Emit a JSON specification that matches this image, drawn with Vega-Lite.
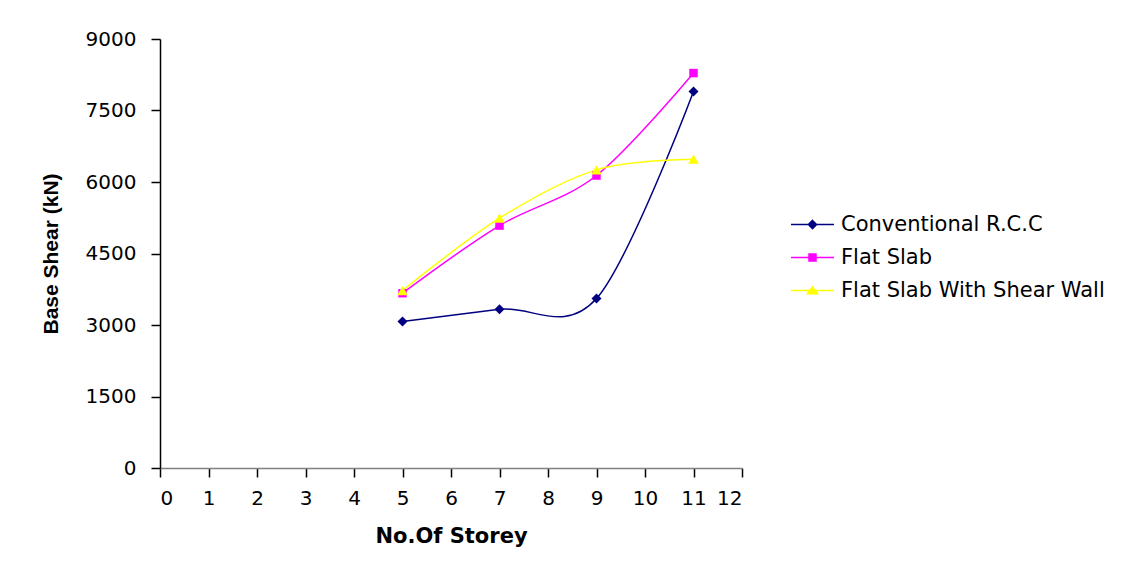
{
  "$schema": "https://vega.github.io/schema/vega-lite/v6.json",
  "autosize": {"type": "none"},
  "padding": {"left": 160, "top": 39, "right": 395, "bottom": 94},
  "width": 582,
  "height": 429,
  "background": "white",
  "config": {
    "view": {"stroke": null},
    "axis": {"grid": false, "labelColor": "black", "titleColor": "black", "tickColor": "black", "tickSize": 9, "tickWidth": 1.5, "domainWidth": 1.5},
    "legend": {"labelFont": "DejaVu Sans", "labelFontSize": 21, "labelColor": "black", "labelLimit": 0}
  },
  "data": {
    "values": [
      {"storey": 5, "series": "Conventional R.C.C", "shear": 3071},
      {"storey": 7, "series": "Conventional R.C.C", "shear": 3331},
      {"storey": 9, "series": "Conventional R.C.C", "shear": 3554},
      {"storey": 11, "series": "Conventional R.C.C", "shear": 7899},
      {"storey": 5, "series": "Flat Slab", "shear": 3667},
      {"storey": 7, "series": "Flat Slab", "shear": 5086},
      {"storey": 9, "series": "Flat Slab", "shear": 6136},
      {"storey": 11, "series": "Flat Slab", "shear": 8285},
      {"storey": 5, "series": "Flat Slab With Shear Wall", "shear": 3722},
      {"storey": 7, "series": "Flat Slab With Shear Wall", "shear": 5241},
      {"storey": 9, "series": "Flat Slab With Shear Wall", "shear": 6255},
      {"storey": 11, "series": "Flat Slab With Shear Wall", "shear": 6479}
    ]
  },
  "encoding": {
    "x": {
      "field": "storey", "type": "quantitative",
      "scale": {"domain": [0, 12], "nice": false, "zero": false},
      "axis": {"title": "No.Of Storey", "values": [0,1,2,3,4,5,6,7,8,9,10,11,12], "format": "d",
        "labelFont": "DejaVu Sans", "labelFontSize": 20, "labelPadding": 11,
        "domainColor": "#808080",
        "titleFont": "DejaVu Sans", "titleFontSize": 21, "titleFontWeight": "bold", "titlePadding": 17}
    },
    "y": {
      "field": "shear", "type": "quantitative",
      "scale": {"domain": [0, 9000], "nice": false},
      "axis": {"title": "Base Shear (kN)", "values": [0,1500,3000,4500,6000,7500,9000], "format": "d",
        "labelFont": "DejaVu Sans", "labelFontSize": 20, "labelPadding": 15,
        "domainColor": "black",
        "titleFont": "Liberation Sans", "titleFontSize": 21, "titleFontWeight": "bold", "titlePadding": 24}
    }
  },
  "resolve": {"scale": {"shape": "independent", "fill": "independent", "stroke": "independent"}},
  "layer": [
    {
      "mark": {"type": "line", "interpolate": "cardinal", "strokeWidth": 1.5},
      "encoding": {
        "color": {"field": "series", "type": "nominal", "legend": null,
          "scale": {"domain": ["Conventional R.C.C", "Flat Slab", "Flat Slab With Shear Wall"], "range": ["#000080", "#FF00FF", "#FFFF00"]}}
      }
    },
    {
      "transform": [{"filter": "datum.series === 'Conventional R.C.C'"}],
      "mark": {"type": "point", "shape": "diamond", "size": 100, "filled": true, "opacity": 1, "strokeWidth": 0},
      "encoding": {"color": {"field": "series", "type": "nominal", "legend": null}}
    },
    {
      "transform": [{"filter": "datum.series === 'Flat Slab'"}],
      "mark": {"type": "point", "shape": "square", "size": 72, "filled": true, "opacity": 1, "strokeWidth": 0},
      "encoding": {"color": {"field": "series", "type": "nominal", "legend": null}}
    },
    {
      "transform": [{"filter": "datum.series === 'Flat Slab With Shear Wall'"}],
      "mark": {"type": "point", "shape": "triangle-up", "size": 114, "filled": true, "opacity": 1, "strokeWidth": 0},
      "encoding": {"color": {"field": "series", "type": "nominal", "legend": null}}
    },
    {
      "mark": {"type": "point", "filled": true, "opacity": 0},
      "encoding": {
        "fill": {"field": "series", "type": "nominal",
          "scale": {"domain": ["Conventional R.C.C", "Flat Slab", "Flat Slab With Shear Wall"], "range": ["#000080", "#FF00FF", "#FFFF00"]},
          "legend": {"title": null, "orient": "none", "legendX": 630, "legendY": 163, "rowPadding": -1, "labelOffset": 6, "symbolSize": 1849, "symbolStrokeWidth": 1.5, "symbolOpacity": 1}},
        "stroke": {"field": "series", "type": "nominal",
          "scale": {"domain": ["Conventional R.C.C", "Flat Slab", "Flat Slab With Shear Wall"], "range": ["#000080", "#FF00FF", "#FFFF00"]},
          "legend": {"title": null, "orient": "none", "legendX": 630, "legendY": 163, "rowPadding": -1, "labelOffset": 6, "symbolSize": 1849, "symbolStrokeWidth": 1.5, "symbolOpacity": 1}},
        "shape": {"field": "series", "type": "nominal",
          "scale": {"domain": ["Conventional R.C.C", "Flat Slab", "Flat Slab With Shear Wall"], "range": ["M-1,0H1M0,-0.19L0.19,0L0,0.19L-0.19,0Z", "M-1,0H1M-0.163,-0.163H0.163V0.163H-0.163Z", "M-1,0H1M0,-0.17L0.233,0.15L-0.233,0.15Z"]},
          "legend": {"title": null, "orient": "none", "legendX": 630, "legendY": 163, "rowPadding": -1, "labelOffset": 6, "symbolSize": 1849, "symbolStrokeWidth": 1.5, "symbolOpacity": 1}}
      }
    }
  ]
}
